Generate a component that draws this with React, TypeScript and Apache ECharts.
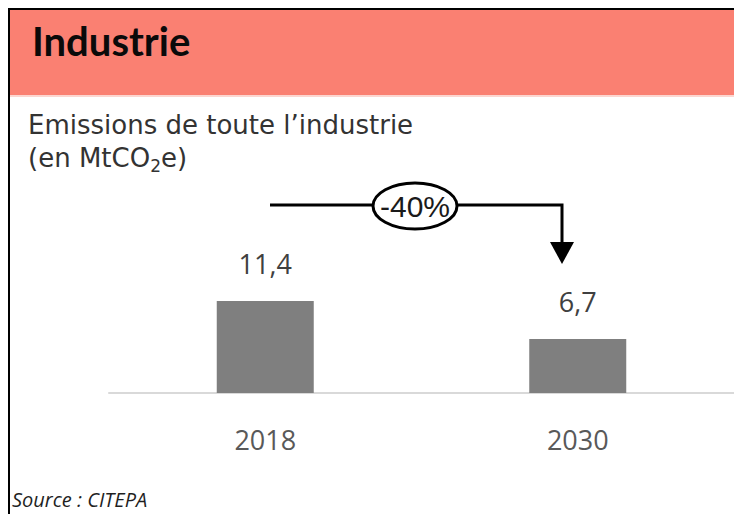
import React, { useEffect, useRef } from "react";
import * as echarts from "echarts";

const categories: string[] = ["2018", "2030"];
const emissions: number[] = [11.4, 6.7];
const changeLabel = "-40%";
const headerTitle = "Industrie";
const subtitleLine1 = "Emissions de toute l’industrie";
const sourceText = "Source : CITEPA";

export default function App() {
  const ref = useRef<HTMLDivElement>(null);

  useEffect(() => {
    if (!ref.current) return;
    const chart = echarts.init(ref.current, undefined, { renderer: "svg" });
    const option: any = {
      animation: false,
      backgroundColor: "#ffffff",
      grid: { left: 109, right: 0, top: 280, bottom: 121, containLabel: false },
      xAxis: {
        type: "category",
        data: categories,
        axisLine: { show: true, lineStyle: { color: "#d9d9d9", width: 2 } },
        axisTick: { show: false },
        axisLabel: {
          fontFamily: "Open Sans",
          fontSize: 27,
          color: "#595959",
          margin: 33,
        },
      },
      yAxis: {
        type: "value",
        min: 0,
        max: 14,
        show: false,
        splitLine: { show: false },
      },
      series: [
        {
          type: "bar",
          data: emissions,
          barWidth: 97,
          itemStyle: { color: "#7f7f7f" },
          label: {
            show: true,
            position: "top",
            distance: 24,
            fontFamily: "Open Sans",
            fontSize: 27,
            color: "#404040",
            formatter: (p: any) => String(p.value).replace(".", ","),
          },
        },
      ],
      graphic: {
        elements: [
          { type: "rect", shape: { x: 8, y: 8, width: 726, height: 2 }, style: { fill: "#000" } },
          { type: "rect", shape: { x: 8, y: 8, width: 2, height: 506 }, style: { fill: "#000" } },
          { type: "rect", shape: { x: 10, y: 10, width: 724, height: 85 }, style: { fill: "#FA8072" } },
          { type: "rect", shape: { x: 10, y: 95, width: 724, height: 2 }, style: { fill: "#fcd6d0" } },
          {
            type: "text",
            x: 32,
            y: 41,
            style: {
              text: headerTitle,
              fontFamily: "Lato",
              fontWeight: "bold",
              fontSize: 40,
              fill: "#0a0a0a",
              verticalAlign: "middle",
              align: "left",
            },
          },
          {
            type: "text",
            x: 28,
            y: 125,
            style: {
              text: subtitleLine1,
              fontFamily: "DejaVu Sans",
              fontSize: 26,
              fill: "#333333",
              verticalAlign: "middle",
              align: "left",
            },
          },
          {
            type: "text",
            x: 28,
            y: 158,
            style: {
              text: "{n|(en MtCO}{s|2}{n|e)}",
              verticalAlign: "middle",
              align: "left",
              rich: {
                n: { fontFamily: "DejaVu Sans", fontSize: 26, fill: "#333333", lineHeight: 30 },
                s: {
                  fontFamily: "DejaVu Sans",
                  fontSize: 17,
                  fill: "#333333",
                  lineHeight: 14,
                  padding: [16, 0, 0, 0],
                },
              },
            },
          },
          {
            type: "polyline",
            shape: { points: [[270, 205], [562, 205], [562, 244]] },
            style: { stroke: "#000", lineWidth: 3, fill: null },
          },
          {
            type: "polygon",
            shape: { points: [[550, 242], [574, 242], [562, 264]] },
            style: { fill: "#000" },
          },
          {
            type: "ellipse",
            shape: { cx: 415, cy: 206, rx: 42, ry: 23 },
            style: { fill: "#fff", stroke: "#000", lineWidth: 3 },
          },
          {
            type: "text",
            x: 415,
            y: 206,
            style: {
              text: changeLabel,
              fontFamily: "Liberation Sans",
              fontSize: 30,
              fill: "#1a1a1a",
              align: "center",
              verticalAlign: "middle",
            },
          },
          {
            type: "text",
            x: 12,
            y: 499,
            style: {
              text: sourceText,
              fontFamily: "Open Sans",
              fontStyle: "italic",
              fontSize: 20,
              fill: "#1f1f1f",
              verticalAlign: "middle",
              align: "left",
            },
          },
        ],
      },
    };
    chart.setOption(option);
    return () => chart.dispose();
  }, []);

  return (
    <div
      ref={ref}
      style={{ position: "absolute", left: 0, top: 0, width: 734, height: 514 }}
    />
  );
}
